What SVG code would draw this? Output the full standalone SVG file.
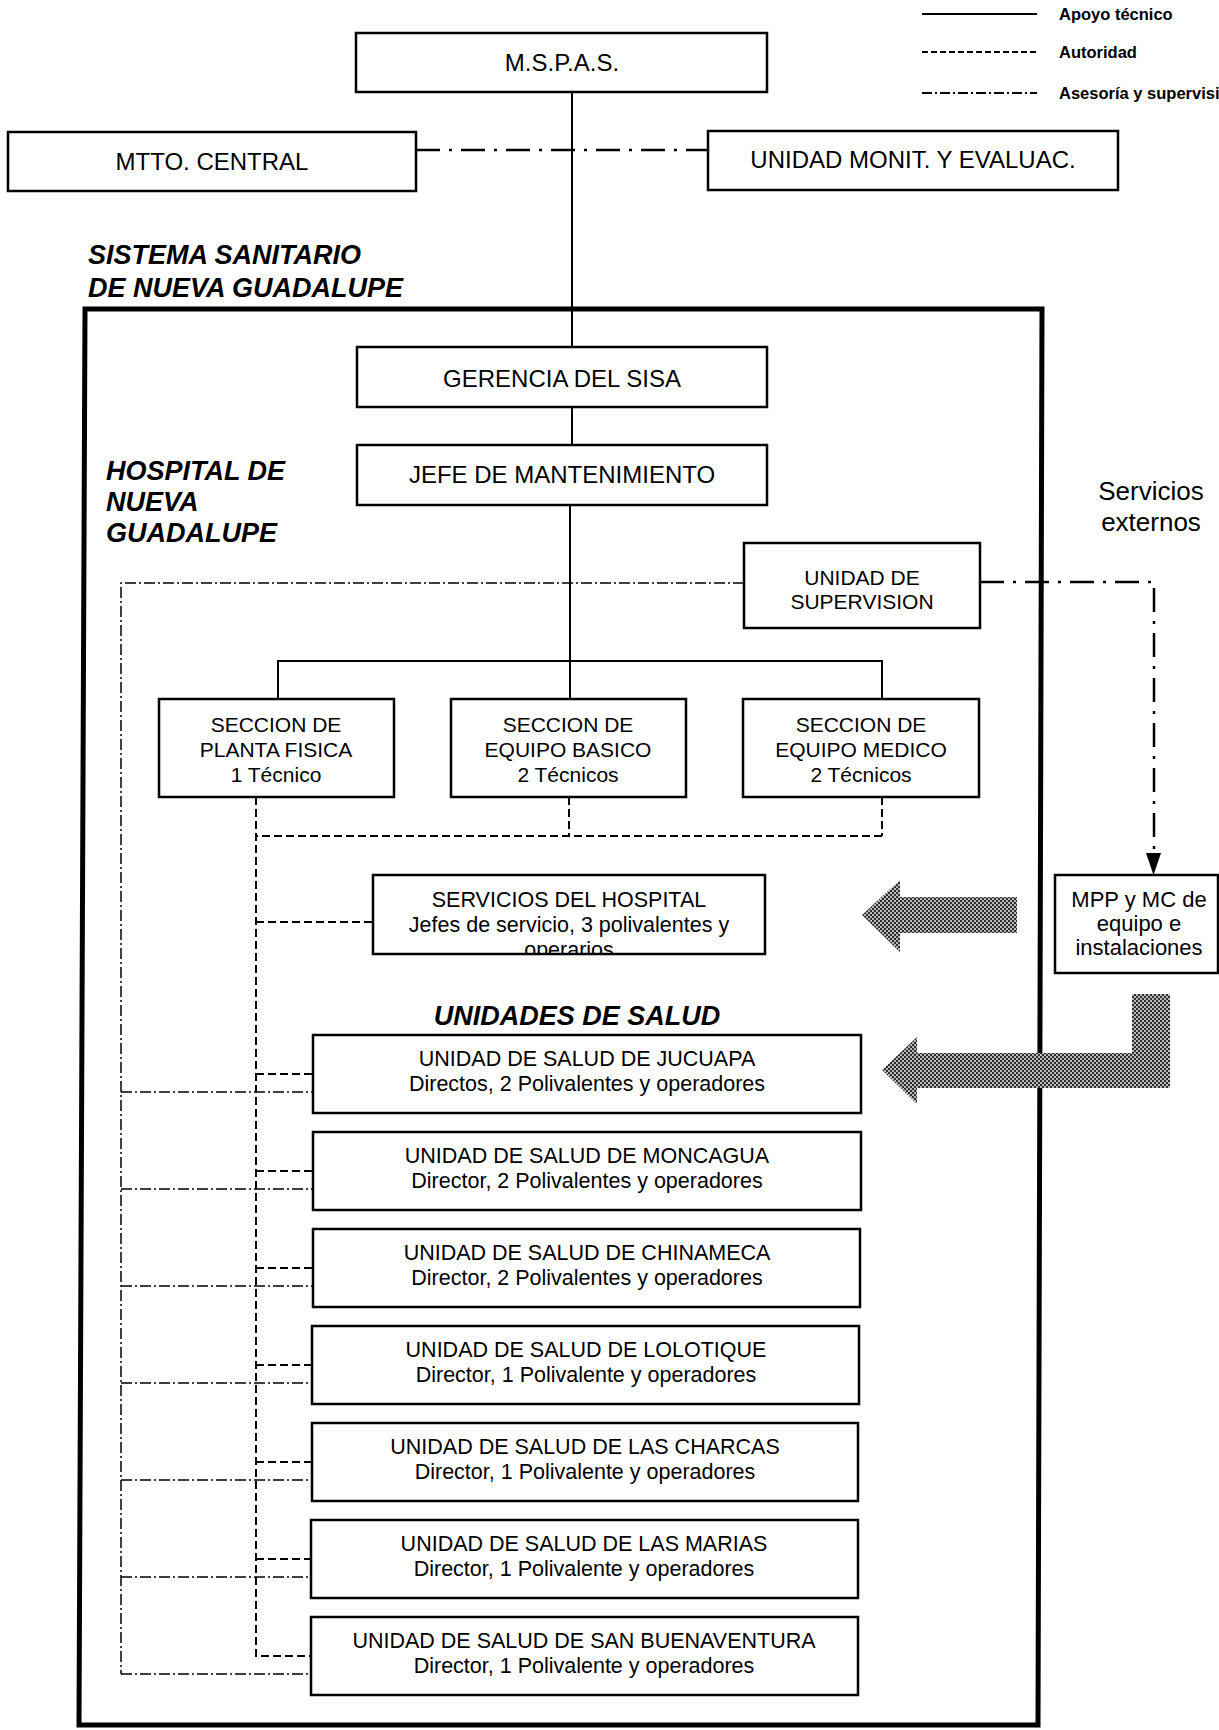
<svg xmlns="http://www.w3.org/2000/svg" width="1219" height="1730" viewBox="0 0 1219 1730">
  <defs>
    <style>
      .box{fill:#fff;stroke:#000;stroke-width:2.5}
      .frame{fill:none;stroke:#000;stroke-width:5}
      .t{font-family:"Liberation Sans",Arial,sans-serif;fill:#000;text-anchor:middle}
      .t24{font-size:24px}
      .t21{font-size:21px}
      .t22{font-size:21.5px}
      .ext{font-family:"Liberation Sans",Arial,sans-serif;font-size:26px;text-anchor:middle}
      .title{font-family:"Liberation Sans",Arial,sans-serif;font-weight:bold;font-style:italic;font-size:27px}
      .leg{font-family:"Liberation Sans",Arial,sans-serif;font-weight:bold;font-size:16.5px}
      .solid{fill:none;stroke:#000;stroke-width:2}
      .auth{fill:none;stroke:#000;stroke-width:2;stroke-dasharray:8 4}
      .sup{fill:none;stroke:#000;stroke-width:1.5;stroke-dasharray:11 3 2 3}
      .supw{fill:none;stroke:#000;stroke-width:2.5;stroke-dasharray:24 9 3 9}
      .big{fill:url(#dither);stroke:none}
    </style>
    <pattern id="dither" width="4" height="4" patternUnits="userSpaceOnUse">
      <rect width="4" height="4" fill="#b8b8b8"/>
      <rect width="2" height="2" fill="#2e2e2e"/>
      <rect x="2" y="2" width="2" height="2" fill="#2e2e2e"/>
    </pattern>
    <clipPath id="clipServ">
      <rect x="374" y="876" width="390" height="77"/>
    </clipPath>
  </defs>

  <!-- legend -->
  <g id="legend">
    <line class="solid" x1="922" y1="14" x2="1037" y2="14"/>
    <line x1="922" y1="52" x2="1037" y2="52" stroke="#000" stroke-width="1.8" stroke-dasharray="6 3"/>
    <line x1="922" y1="93" x2="1037" y2="93" stroke="#000" stroke-width="1.8" stroke-dasharray="10 3 2 3"/>
    <text class="leg" x="1059" y="20">Apoyo técnico</text>
    <text class="leg" x="1059" y="58">Autoridad</text>
    <text class="leg" x="1059" y="99">Asesoría y supervisión</text>
  </g>

  <!-- outer system frame and section titles -->
  <path class="frame" d="M85,309 L1042,309 L1038,1725 L79,1725 Z"/>
  <text class="title" x="88" y="264">SISTEMA SANITARIO</text>
  <text class="title" x="88" y="297">DE NUEVA GUADALUPE</text>
  <text class="title" x="106" y="480">HOSPITAL DE</text>
  <text class="title" x="106" y="511">NUEVA</text>
  <text class="title" x="106" y="542">GUADALUPE</text>
  <text class="title" x="577" y="1025" text-anchor="middle">UNIDADES DE SALUD</text>
  <text class="ext" x="1151" y="500">Servicios</text>
  <text class="ext" x="1151" y="531">externos</text>

  <!-- connectors -->
  <g id="connectors">
    <!-- technical support (solid) -->
    <line class="solid" x1="572" y1="92" x2="572" y2="347"/>
    <line class="solid" x1="572" y1="407" x2="572" y2="445"/>
    <line class="solid" x1="570" y1="505" x2="570" y2="699"/>
    <polyline class="solid" points="278,699 278,661 882,661 882,699"/>

    <!-- advisory / supervision (dash-dot) -->
    <line class="supw" x1="416" y1="150" x2="708" y2="150"/>
    <polyline class="supw" points="980,582 1154,582 1154,853"/>
    <polygon points="1146,853 1161,853 1153.5,875" fill="#000"/>
    <polyline class="sup" points="744,583 121,583 121,1674"/>
    <line class="sup" x1="121" y1="1092" x2="312" y2="1092"/>
    <line class="sup" x1="121" y1="1189" x2="312" y2="1189"/>
    <line class="sup" x1="121" y1="1286" x2="312" y2="1286"/>
    <line class="sup" x1="121" y1="1383" x2="312" y2="1383"/>
    <line class="sup" x1="121" y1="1480" x2="312" y2="1480"/>
    <line class="sup" x1="121" y1="1577" x2="312" y2="1577"/>
    <line class="sup" x1="121" y1="1674" x2="312" y2="1674"/>

    <!-- authority (dashed) -->
    <line class="auth" x1="882" y1="797" x2="882" y2="836"/>
    <line class="auth" x1="569" y1="797" x2="569" y2="836"/>
    <line class="auth" x1="882" y1="836" x2="256" y2="836"/>
    <polyline class="auth" points="256,797 256,1656 312,1656"/>
    <line class="auth" x1="256" y1="922" x2="373" y2="922"/>
    <line class="auth" x1="256" y1="1074" x2="312" y2="1074"/>
    <line class="auth" x1="256" y1="1171" x2="312" y2="1171"/>
    <line class="auth" x1="256" y1="1268" x2="312" y2="1268"/>
    <line class="auth" x1="256" y1="1365" x2="312" y2="1365"/>
    <line class="auth" x1="256" y1="1462" x2="312" y2="1462"/>
    <line class="auth" x1="256" y1="1559" x2="312" y2="1559"/>

    <!-- external service flow arrows -->
    <polygon class="big" points="862,915 900,880 900,897 1017,897 1017,933 900,933 900,952"/>
    <polygon class="big" points="882,1070 917,1037 917,1053 1132,1053 1132,994 1170,994 1170,1088 917,1088 917,1104"/>
  </g>

  <!-- nodes -->
  <g id="mspas">
    <rect class="box" x="356" y="33" width="411" height="59"/>
    <text class="t t24" x="562" y="71">M.S.P.A.S.</text>
  </g>
  <g id="mtto-central">
    <rect class="box" x="8" y="132" width="408" height="59"/>
    <text class="t t24" x="212" y="170">MTTO. CENTRAL</text>
  </g>
  <g id="unidad-monit">
    <rect class="box" x="708" y="131" width="410" height="59"/>
    <text class="t t24" x="913" y="168">UNIDAD MONIT. Y EVALUAC.</text>
  </g>
  <g id="gerencia">
    <rect class="box" x="357" y="347" width="410" height="60"/>
    <text class="t t24" x="562" y="387">GERENCIA DEL SISA</text>
  </g>
  <g id="jefe">
    <rect class="box" x="357" y="445" width="410" height="60"/>
    <text class="t t24" x="562" y="483">JEFE DE MANTENIMIENTO</text>
  </g>
  <g id="unidad-supervision">
    <rect class="box" x="744" y="543" width="236" height="85"/>
    <text class="t t21" x="862" y="585">UNIDAD DE</text>
    <text class="t t21" x="862" y="609">SUPERVISION</text>
  </g>
  <g id="seccion-planta">
    <rect class="box" x="159" y="699" width="235" height="98"/>
    <text class="t t21" x="276" y="732">SECCION DE</text>
    <text class="t t21" x="276" y="757">PLANTA FISICA</text>
    <text class="t t21" x="276" y="782">1 Técnico</text>
  </g>
  <g id="seccion-basico">
    <rect class="box" x="451" y="699" width="235" height="98"/>
    <text class="t t21" x="568" y="732">SECCION DE</text>
    <text class="t t21" x="568" y="757">EQUIPO BASICO</text>
    <text class="t t21" x="568" y="782">2 Técnicos</text>
  </g>
  <g id="seccion-medico">
    <rect class="box" x="743" y="699" width="236" height="98"/>
    <text class="t t21" x="861" y="732">SECCION DE</text>
    <text class="t t21" x="861" y="757">EQUIPO MEDICO</text>
    <text class="t t21" x="861" y="782">2 Técnicos</text>
  </g>
  <g id="servicios-hospital">
    <rect class="box" x="373" y="875" width="392" height="79"/>
    <text class="t t22" x="569" y="907">SERVICIOS DEL HOSPITAL</text>
    <text class="t t22" x="569" y="932">Jefes de servicio, 3 polivalentes y</text>
    <text class="t t22" x="569" y="957" clip-path="url(#clipServ)">operarios</text>
  </g>
  <g id="mpp-mc">
    <rect class="box" x="1055" y="875" width="163" height="98"/>
    <text class="t" style="font-size:22px" x="1139" y="907">MPP y MC de</text>
    <text class="t" style="font-size:22px" x="1139" y="931">equipo e</text>
    <text class="t" style="font-size:22px" x="1139" y="955">instalaciones</text>
  </g>

  <g id="us-jucuapa">
    <rect class="box" x="313" y="1035" width="548" height="78"/>
    <text class="t t22" x="587" y="1066">UNIDAD DE SALUD DE JUCUAPA</text>
    <text class="t t22" x="587" y="1091">Directos, 2 Polivalentes y operadores</text>
  </g>
  <g id="us-moncagua">
    <rect class="box" x="313" y="1132" width="548" height="78"/>
    <text class="t t22" x="587" y="1163">UNIDAD DE SALUD DE MONCAGUA</text>
    <text class="t t22" x="587" y="1188">Director, 2 Polivalentes y operadores</text>
  </g>
  <g id="us-chinameca">
    <rect class="box" x="313" y="1229" width="547" height="78"/>
    <text class="t t22" x="587" y="1260">UNIDAD DE SALUD DE CHINAMECA</text>
    <text class="t t22" x="587" y="1285">Director, 2 Polivalentes y operadores</text>
  </g>
  <g id="us-lolotique">
    <rect class="box" x="312" y="1326" width="547" height="78"/>
    <text class="t t22" x="586" y="1357">UNIDAD DE SALUD DE LOLOTIQUE</text>
    <text class="t t22" x="586" y="1382">Director, 1 Polivalente y operadores</text>
  </g>
  <g id="us-charcas">
    <rect class="box" x="312" y="1423" width="546" height="78"/>
    <text class="t t22" x="585" y="1454">UNIDAD DE SALUD DE LAS CHARCAS</text>
    <text class="t t22" x="585" y="1479">Director, 1 Polivalente y operadores</text>
  </g>
  <g id="us-marias">
    <rect class="box" x="311" y="1520" width="547" height="78"/>
    <text class="t t22" x="584" y="1551">UNIDAD DE SALUD DE LAS MARIAS</text>
    <text class="t t22" x="584" y="1576">Director, 1 Polivalente y operadores</text>
  </g>
  <g id="us-san-buenaventura">
    <rect class="box" x="311" y="1617" width="547" height="78"/>
    <text class="t t22" x="584" y="1648">UNIDAD DE SALUD DE SAN BUENAVENTURA</text>
    <text class="t t22" x="584" y="1673">Director, 1 Polivalente y operadores</text>
  </g>
</svg>
